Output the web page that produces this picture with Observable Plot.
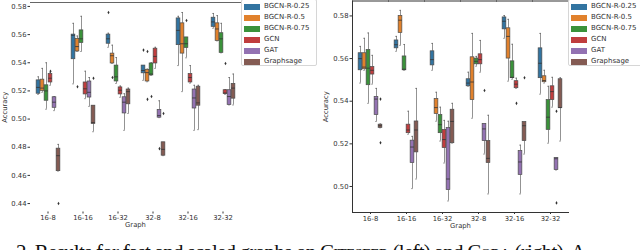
<!DOCTYPE html>
<html><head><meta charset="utf-8">
<script src="https://cdn.jsdelivr.net/npm/d3@7"></script>
<script src="https://cdn.jsdelivr.net/npm/@observablehq/plot@0.6"></script>
<style>
body{margin:0;background:#fff;}
#wrap{position:relative;width:640px;height:250px;overflow:hidden;font-family:"DejaVu Sans",sans-serif;}
.panel{position:absolute;top:0;}
.legend{position:absolute;top:-1px;height:67px;background:#fff;border:1px solid #d6d6d6;border-radius:2px;box-sizing:border-box;}
.lrow{position:absolute;left:0;height:11px;font-size:7px;color:#333;white-space:nowrap;}
.lpatch{position:absolute;left:2px;top:3px;width:16px;height:5.5px;}
.ltext{position:absolute;left:22px;top:0;line-height:11px;}
#caption{position:absolute;left:0;top:232px;}
</style></head>
<body><div id="wrap"></div>
<script>
// ---- data ----
const groups = ["16-8", "16-16", "16-32", "32-8", "32-16", "32-32"];
const series = ["BGCN-R-0.25", "BGCN-R-0.5", "BGCN-R-0.75", "GCN", "GAT", "Graphsage"];
const colors = ["#3274a1", "#e1812c", "#3a923a", "#c03d3e", "#9372b2", "#845b53"];
const yTicksLeft = [0.44, 0.46, 0.48, 0.50, 0.52, 0.54, 0.56, 0.58];
const yTicksRight = [0.50, 0.52, 0.54, 0.56, 0.58];

// box stats per group: [low whisker, q1, median, q3, high whisker]
const citeseerB25 = [[0.5175,0.518,0.5225,0.5275,0.530],[0.525,0.5425,0.5595,0.560,0.568],[0.551,0.5535,0.557,0.560,0.561],[0.5275,0.5325,0.5345,0.538,0.538],[0.538,0.5525,0.563,0.5715,0.573],[0.5645,0.5655,0.569,0.572,0.575]];
const citeseerB50 = [[0.519,0.520,0.522,0.528,0.536],[0.548,0.548,0.5515,0.557,0.559],[0.5395,0.5395,0.545,0.5465,0.5525],[0.5265,0.5267,0.533,0.535,0.5355],[0.5195,0.5465,0.5535,0.568,0.5757],[0.5555,0.5555,0.564,0.568,0.5735]];
const citeseerB75 = [[0.507,0.513,0.520,0.524,0.540],[0.548,0.554,0.557,0.563,0.573],[0.5253,0.5267,0.530,0.538,0.5437],[0.531,0.531,0.532,0.5395,0.540],[0.5435,0.5505,0.5535,0.558,0.558],[0.547,0.547,0.557,0.561,0.568]];
const citeseerGCN = [[0.524,0.526,0.529,0.532,0.533],[0.5145,0.5175,0.5215,0.526,0.534],[0.5155,0.5175,0.5205,0.5225,0.5235],[0.536,0.5395,0.5445,0.550,0.551],[0.5255,0.526,0.5295,0.532,0.538],[0.5175,0.5178,0.5185,0.5205,0.521]];
const citeseerGAT = [[0.506,0.508,0.512,0.5155,0.516],[0.509,0.5153,0.519,0.5267,0.5295],[0.492,0.504,0.512,0.5155,0.518],[0.501,0.501,0.5025,0.5065,0.513],[0.492,0.5075,0.515,0.521,0.524],[0.510,0.510,0.516,0.5205,0.5295]];
const citeseerSAGE = [[0.463,0.463,0.474,0.479,0.482],[0.491,0.4965,0.4975,0.5095,0.5095],[0.504,0.5105,0.5195,0.521,0.522],[0.474,0.474,0.4785,0.4835,0.4835],[0.4925,0.5095,0.5115,0.523,0.524],[0.510,0.5145,0.522,0.525,0.532]];
const citeseerOutliers = [["16-8","GCN",0.534],["16-8","Graphsage",0.440],["16-16","BGCN-R-0.5",0.523],["16-16","Graphsage",0.529],["16-32","BGCN-R-0.25",0.5757],["16-32","BGCN-R-0.5",0.5295],["32-8","BGCN-R-0.25",0.549],["32-8","BGCN-R-0.5",0.548],["32-8","BGCN-R-0.5",0.514],["32-8","BGCN-R-0.75",0.516],["32-8","GAT",0.479],["32-8","Graphsage",0.504],["32-16","BGCN-R-0.75",0.570],["32-32","GCN",0.5395]];

const coraB25 = [[0.5485,0.5545,0.560,0.5625,0.5657],[0.5634,0.5648,0.5665,0.5685,0.5704],[0.5545,0.5568,0.5595,0.5634,0.5671],[0.547,0.547,0.5485,0.5503,0.5536],[0.5695,0.5737,0.5775,0.5793,0.5802],[0.5433,0.5508,0.5578,0.5648,0.5718]];
const coraB50 = [[0.5545,0.555,0.556,0.5625,0.5695],[0.5662,0.572,0.578,0.580,0.5826],[0.5306,0.534,0.537,0.541,0.5442],[0.532,0.5405,0.549,0.5606,0.5718],[0.5494,0.560,0.5704,0.5742,0.5784],[0.5485,0.5489,0.5497,0.5517,0.5545]];
const coraB75 = [[0.539,0.5475,0.5555,0.564,0.572],[0.5545,0.5545,0.555,0.561,0.5666],[0.5213,0.525,0.529,0.5335,0.5372],[0.5564,0.5573,0.5587,0.560,0.561],[0.5503,0.5508,0.5512,0.5587,0.5667],[0.5203,0.5265,0.5325,0.5405,0.547]];
const coraGCN = [[0.548,0.5525,0.5545,0.556,0.5615],[0.5245,0.525,0.5265,0.529,0.5353],[0.511,0.518,0.522,0.5265,0.531],[0.5536,0.5573,0.5595,0.562,0.5685],[0.546,0.5461,0.548,0.5494,0.5508],[0.5372,0.5405,0.5445,0.547,0.5512]];
const coraGAT = [[0.5305,0.5335,0.541,0.542,0.546],[0.499,0.511,0.5185,0.5215,0.5235],[0.4932,0.4983,0.5035,0.5274,0.5306],[0.5152,0.5213,0.527,0.5293,0.5293],[0.4965,0.5054,0.5115,0.5166,0.5194],[0.5077,0.5077,0.513,0.5133,0.5135]];
const coraSAGE = [[0.5275,0.5275,0.5285,0.529,0.5293],[0.5035,0.516,0.5265,0.5305,0.546],[0.5203,0.5203,0.5305,0.536,0.539],[0.4965,0.511,0.5132,0.5213,0.5334],[0.5152,0.5213,0.5285,0.5302,0.5302],[0.5213,0.5368,0.537,0.5503,0.551]];
const coraOutliers = [["16-8","Graphsage",0.541],["16-8","Graphsage",0.5205],["32-8","GAT",0.545],["32-16","GCN",0.539],["32-16","Graphsage",0.551],["32-32","GAT",0.5353],["32-32","GAT",0.4923]];

// ---- build ----
const gray = "#4a4a4a";
function rowsOf(statsList) {
  const rows = [];
  statsList.forEach((arr, si) => arr.forEach((st, gi) => {
    rows.push({group: groups[gi], series: series[si], lo: st[0], q1: st[1], med: st[2], q3: st[3], hi: st[4]});
  }));
  return rows;
}
function panel(statsList, outliers, o) {
  const rows = rowsOf(statsList);
  const out = outliers.map(([g, s, v]) => ({group: g, series: s, v}));
  const base = {fx: "group", x: "series"};
  return Plot.plot({
    width: 320, height: 232,
    marginLeft: o.ml, marginRight: o.mr, marginTop: o.mt, marginBottom: 232 - o.bottom,
    style: {fontFamily: "DejaVu Sans", fontSize: "7px", color: "#222", background: "transparent", overflow: "visible"},
    fx: {domain: groups, padding: 0, axis: null},
    x: {domain: series, paddingInner: 0, paddingOuter: 0.75, axis: null},
    y: {domain: o.ydomain, axis: null},
    color: {domain: series, range: colors},
    marks: [
      ...o.spines.map(a => Plot.frame({anchor: a, stroke: o.spineColor, strokeWidth: 1, facetAnchor: a === "left" ? "left" : null})),
      Plot.ruleX(rows, {...base, y1: "lo", y2: "q1", stroke: gray, strokeWidth: 0.8, strokeOpacity: 0.75}),
      Plot.ruleX(rows, {...base, y1: "q3", y2: "hi", stroke: gray, strokeWidth: 0.8, strokeOpacity: 0.75}),
      Plot.tickY(rows, {...base, y: "lo", stroke: gray, strokeWidth: 0.8, strokeOpacity: 0.75, insetLeft: 1.2, insetRight: 1.2}),
      Plot.tickY(rows, {...base, y: "hi", stroke: gray, strokeWidth: 0.8, strokeOpacity: 0.75, insetLeft: 1.2, insetRight: 1.2}),
      Plot.barY(rows, {...base, y1: "q1", y2: "q3", fill: "series", stroke: gray, strokeWidth: 0.7, insetLeft: 0.15, insetRight: 0.15}),
      Plot.tickY(rows, {...base, y: "med", stroke: "#333", strokeWidth: 0.8, insetLeft: 0.15, insetRight: 0.15}),
      Plot.dot(out, {...base, y: "v", symbol: "diamond", r: 1.1, fill: "#333", stroke: "none"}),
      Plot.axisY({ticks: o.ticks, tickFormat: ".2f", tickSize: 2.5, tickPadding: 1.5, fontSize: 6.8, label: "Accuracy", labelAnchor: "center", labelArrow: false, labelOffset: o.labelOffset, color: "#333"}),
      Plot.axisFx({anchor: "bottom", tickSize: 2, tickPadding: 1.5, fontSize: 6.8, label: "Graph", labelAnchor: "center", labelOffset: 15, color: "#333"})
    ]
  });
}

const wrap = document.getElementById("wrap");
function place(node, left) {
  const d = document.createElement("div");
  d.className = "panel";
  d.style.left = left + "px";
  d.appendChild(node);
  wrap.appendChild(d);
}
place(panel([citeseerB25, citeseerB50, citeseerB75, citeseerGCN, citeseerGAT, citeseerSAGE], citeseerOutliers,
  {ml: 27, mr: 78, mt: 2, bottom: 211.5, ydomain: [0.434, 0.5828], ticks: yTicksLeft, labelOffset: 28, spines: ["top"], spineColor: "#666"}), 0);
place(panel([coraB25, coraB50, coraB75, coraGCN, coraGAT, coraSAGE], coraOutliers,
  {ml: 31, mr: 72, mt: 0.5, bottom: 212, ydomain: [0.4878, 0.587], ticks: yTicksRight, labelOffset: 29, spines: ["top", "left", "bottom"], spineColor: "#333"}), 320);

function legend(left, width) {
  const lg = document.createElement("div");
  lg.className = "legend";
  lg.style.left = left + "px";
  lg.style.width = width + "px";
  series.forEach((s, i) => {
    const r = document.createElement("div");
    r.className = "lrow";
    r.style.top = (1 + i * 11) + "px";
    r.innerHTML = `<div class="lpatch" style="background:${colors[i]}"></div><div class="ltext">${s}</div>`;
    lg.appendChild(r);
  });
  wrap.appendChild(lg);
}
legend(241, 76);
legend(568, 80);

// caption (cut off at the bottom of the picture, as in the reference)
const cap = document.createElement("div");
cap.id = "caption";
cap.innerHTML = `<svg width="640" height="30" style="display:block"><text x="16" y="27" textLength="570" lengthAdjust="spacing" font-family="Liberation Serif" font-size="21" fill="#111">2.  Results for fast and scaled graphs on <tspan font-variant="small-caps">Citeseer</tspan> (left) and <tspan font-variant="small-caps">Cora</tspan> (right).  A</text></svg>`;
wrap.appendChild(cap);
</script>
</body></html>
